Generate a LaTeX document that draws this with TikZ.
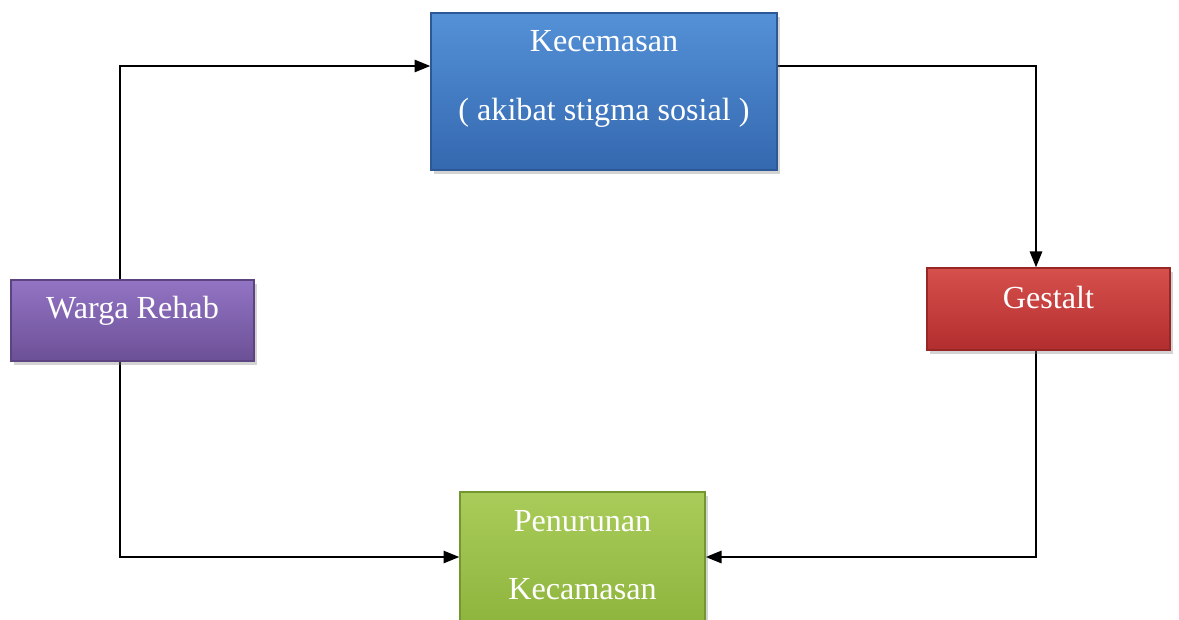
\documentclass[tikz,border=0pt]{standalone}
\usepackage{fontspec}
\setmainfont{Liberation Serif}
\usepackage{tikz}
\usetikzlibrary{shadows}
\usetikzlibrary{arrows.meta}
\pgfdeclarelayer{edgelayer}
\pgfdeclarelayer{nodelayer}
\pgfsetlayers{edgelayer,nodelayer,main}
\tikzstyle{none}=[inner sep=0pt]
\tikzstyle{box}=[inner sep=0pt, line width=0.8pt, drop shadow={opacity=0.35, shadow xshift=1.5pt, shadow yshift=-2pt}]
\tikzstyle{txt}=[inner sep=0pt, text=white, align=center, font=\fontsize{18.3}{39}\selectfont]
\definecolor{bluetop}{RGB}{84,145,215}
\definecolor{bluebot}{RGB}{52,104,175}
\definecolor{purptop}{RGB}{146,116,196}
\definecolor{purpbot}{RGB}{108,80,150}
\definecolor{redtop}{RGB}{214,80,76}
\definecolor{redbot}{RGB}{178,46,46}
\definecolor{greentop}{RGB}{170,204,90}
\definecolor{greenbot}{RGB}{136,176,56}

\begin{document}
\begin{tikzpicture}[x=0.02cm, y=-0.02cm]
	\useasboundingbox (0, 0) rectangle (1179, 619);
	\begin{pgfonlayer}{nodelayer}
		\node [style=box, draw=purpbot!85!black, top color=purptop, bottom color=purpbot, minimum width=4.86cm, minimum height=1.62cm] (0) at (132.5, 320.5) {};
		\node [style=box, draw=bluebot!85!black, top color=bluetop, bottom color=bluebot, minimum width=6.92cm, minimum height=3.14cm] (1) at (604, 91.5) {};
		\node [style=box, draw=redbot!85!black, top color=redtop, bottom color=redbot, minimum width=4.86cm, minimum height=1.64cm] (2) at (1048.5, 309) {};
		\node [style=box, draw=greenbot!85!black, top color=greentop, bottom color=greenbot, minimum width=4.9cm, minimum height=3.16cm] (3) at (582.5, 571) {};
		\node [style=txt] (4) at (132.5, 311) {Warga Rehab};
		\node [style=txt] (5) at (604, 79) {Kecemasan\\( akibat stigma sosial )};
		\node [style=txt] (6) at (1048.5, 297) {Gestalt};
		\node [style=txt] (7) at (582.5, 555) {Penurunan\\Kecamasan};
		\node [style=none] (8) at (120, 66) {};
		\node [style=none] (9) at (1036, 66) {};
		\node [style=none] (10) at (1036, 557) {};
		\node [style=none] (11) at (120, 557) {};
	\end{pgfonlayer}
	\begin{pgfonlayer}{edgelayer}
		\draw [->, >={Triangle[length=9pt, width=7pt]}, line width=1.1pt] (8.center |- 0.north) to (8.center) to (8.center -| 1.west);
		\draw [->, >={Triangle[length=9pt, width=7pt]}, line width=1.1pt] (9.center -| 1.east) to (9.center) to (9.center |- 2.north);
		\draw [->, >={Triangle[length=9pt, width=7pt]}, line width=1.1pt] (10.center |- 2.south) to (10.center) to (10.center -| 3.east);
		\draw [->, >={Triangle[length=9pt, width=7pt]}, line width=1.1pt] (11.center |- 0.south) to (11.center) to (11.center -| 3.west);
	\end{pgfonlayer}
\end{tikzpicture}
\end{document}
